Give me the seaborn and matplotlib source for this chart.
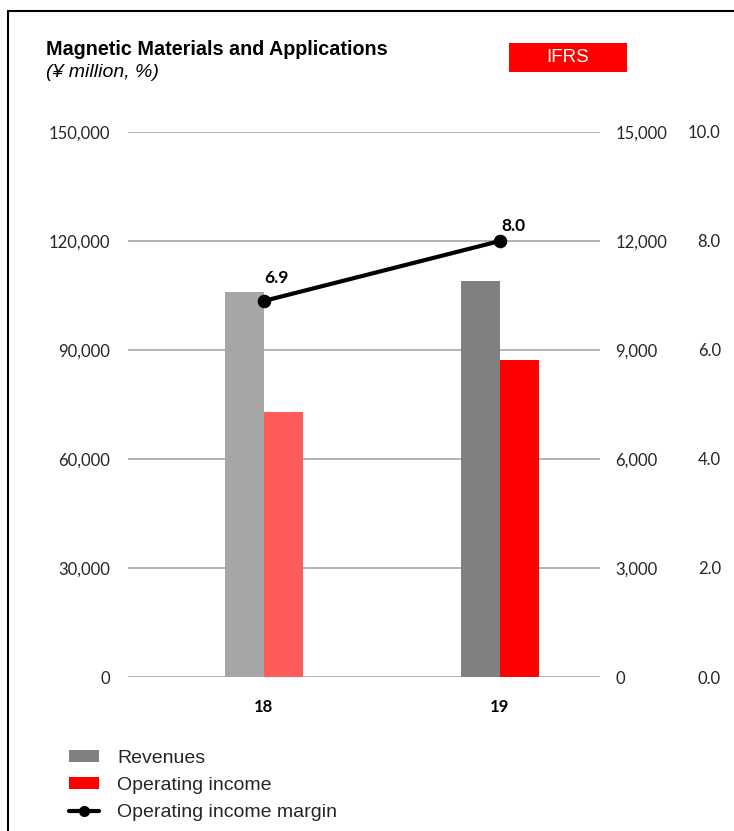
import matplotlib
matplotlib.use("Agg")
import matplotlib.pyplot as plt
import seaborn as sns
import pandas as pd
from matplotlib.patches import Patch, Rectangle
from matplotlib.lines import Line2D

# Fiscal years and segment figures
years = ["18", "19"]
revenues = [106000, 109000]            # ¥ million, left axis
operating_income = [7300, 8720]        # ¥ million, right axis
margin = [6.9, 8.0]                    # %, outer right axis

left_ticks = [0, 30000, 60000, 90000, 120000, 150000]
right_ticks = [0, 3000, 6000, 9000, 12000, 15000]
margin_ticks = [0.0, 2.0, 4.0, 6.0, 8.0, 10.0]

series_order = ["Revenues", "Operating income"]
rev_colors = ["#A6A6A6", "#808080"]
oi_colors = ["#FF5B5B", "#FF0000"]

sns.set_theme(style="white")
plt.rcParams["font.family"] = ["Liberation Sans", "DejaVu Sans"]

W, H = 734, 831
fig = plt.figure(figsize=(W / 100, H / 100), dpi=100)
ax = fig.add_axes([128 / W, 1 - 677 / H, 472 / W, 545 / H])

df_rev = pd.DataFrame({"year": years, "series": "Revenues", "value": revenues})
df_oi = pd.DataFrame({"year": years, "series": "Operating income", "value": operating_income})

# Revenues on the left axis
sns.barplot(data=df_rev, x="year", y="value", hue="series", hue_order=series_order,
            order=years, width=0.33, dodge=True, errorbar=None, legend=False,
            palette=["#808080", "#FF0000"], saturation=1, ax=ax)
for p, c in zip(sorted(ax.patches, key=lambda p: p.get_x()), rev_colors):
    p.set_facecolor(c)
    p.set_edgecolor("none")
    p.set_zorder(2)

# Operating income on the right axis
ax2 = ax.twinx()
sns.barplot(data=df_oi, x="year", y="value", hue="series", hue_order=series_order,
            order=years, width=0.33, dodge=True, errorbar=None, legend=False,
            palette=["#808080", "#FF0000"], saturation=1, ax=ax2)
for p, c in zip(sorted(ax2.patches, key=lambda p: p.get_x()), oi_colors):
    p.set_facecolor(c)
    p.set_edgecolor("none")

# Operating income margin on a third scale
ax3 = ax.twinx()
sns.lineplot(x=[0, 1], y=margin, color="black", linewidth=3, marker="o",
             markersize=9, markeredgecolor="black", ax=ax3)
label_offsets = [(0, 11), (1, 5)]
for i, (m, off) in enumerate(zip(margin, label_offsets)):
    ax3.annotate(f"{m:.1f}", (i, m), xytext=off, textcoords="offset points",
                 ha="left", va="bottom", fontsize=12.5, fontweight="bold",
                 family=["Lato", "DejaVu Sans"], color="black")

ax.set_ylim(0, 150000)
ax2.set_ylim(0, 15000)
ax3.set_ylim(0, 10)
for a in (ax, ax2, ax3):
    a.set_xlim(-0.576, 1.424)
    a.set_xlabel("")
    a.set_ylabel("")
    for s in a.spines.values():
        s.set_visible(False)

tick_font = dict(family=["Lato", "DejaVu Sans"], size=12, color="#262626")

ax.set_yticks(left_ticks)
ax.set_yticklabels([f"{v:,}" for v in left_ticks], **tick_font)
ax.tick_params(axis="y", length=0, pad=13)
ax.yaxis.grid(True, color="#A6A6A6", linewidth=1.2)
ax.xaxis.grid(False)
ax.set_axisbelow(True)

ax.set_xticks([0, 1])
ax.set_xticklabels(years, family=["Lato", "DejaVu Sans"], size=12,
                   fontweight="bold", color="black")
ax.tick_params(axis="x", length=0, pad=16)

ax2.set_yticks(right_ticks)
ax2.set_yticklabels([f"{v:,}" for v in right_ticks], **tick_font)
ax2.tick_params(axis="y", length=0, pad=11)
ax2.grid(False)

ax3.set_yticks(margin_ticks)
ax3.set_yticklabels([f"{v:.1f}" for v in margin_ticks], **tick_font)
ax3.tick_params(axis="y", length=0, pad=87)
for lbl in ax3.get_yticklabels():
    lbl.set_horizontalalignment("right")
ax3.grid(False)

# Title block
fig.text(46 / W, 1 - 55 / H, "Magnetic Materials and Applications",
         fontsize=14.2, fontweight="bold", color="black", va="baseline")
fig.text(46 / W, 1 - 77 / H, "(¥ million, %)", fontsize=14,
         fontstyle="italic", color="black", va="baseline")

# IFRS badge
fig.add_artist(Rectangle((509 / W, 1 - 72 / H), 118 / W, 29 / H,
                         transform=fig.transFigure, facecolor="#FF0000",
                         edgecolor="none"))
fig.text(568 / W, 1 - 57.5 / H, "IFRS", fontsize=13.5, color="white",
         ha="center", va="center")

# Outer frame
fig.add_artist(Rectangle((8 / W, -0.1), 1.2, 1 - 11 / H + 0.1,
                         transform=fig.transFigure, fill=False,
                         edgecolor="black", linewidth=1.5))

# Legend
handles = [
    Patch(facecolor="#808080", edgecolor="none"),
    Patch(facecolor="#FF0000", edgecolor="none"),
    Line2D([0], [0], color="black", linewidth=3, marker="o", markersize=7),
]
labels = ["Revenues", "Operating income", "Operating income margin"]
fig.legend(handles, labels, loc="upper left", bbox_to_anchor=(69 / W, 1 - 750 / H),
           frameon=False, fontsize=14, handlelength=1.55, handleheight=0.55,
           handletextpad=0.93, labelspacing=0.52, borderpad=0, borderaxespad=0)

fig.savefig("out.png", dpi=100)
